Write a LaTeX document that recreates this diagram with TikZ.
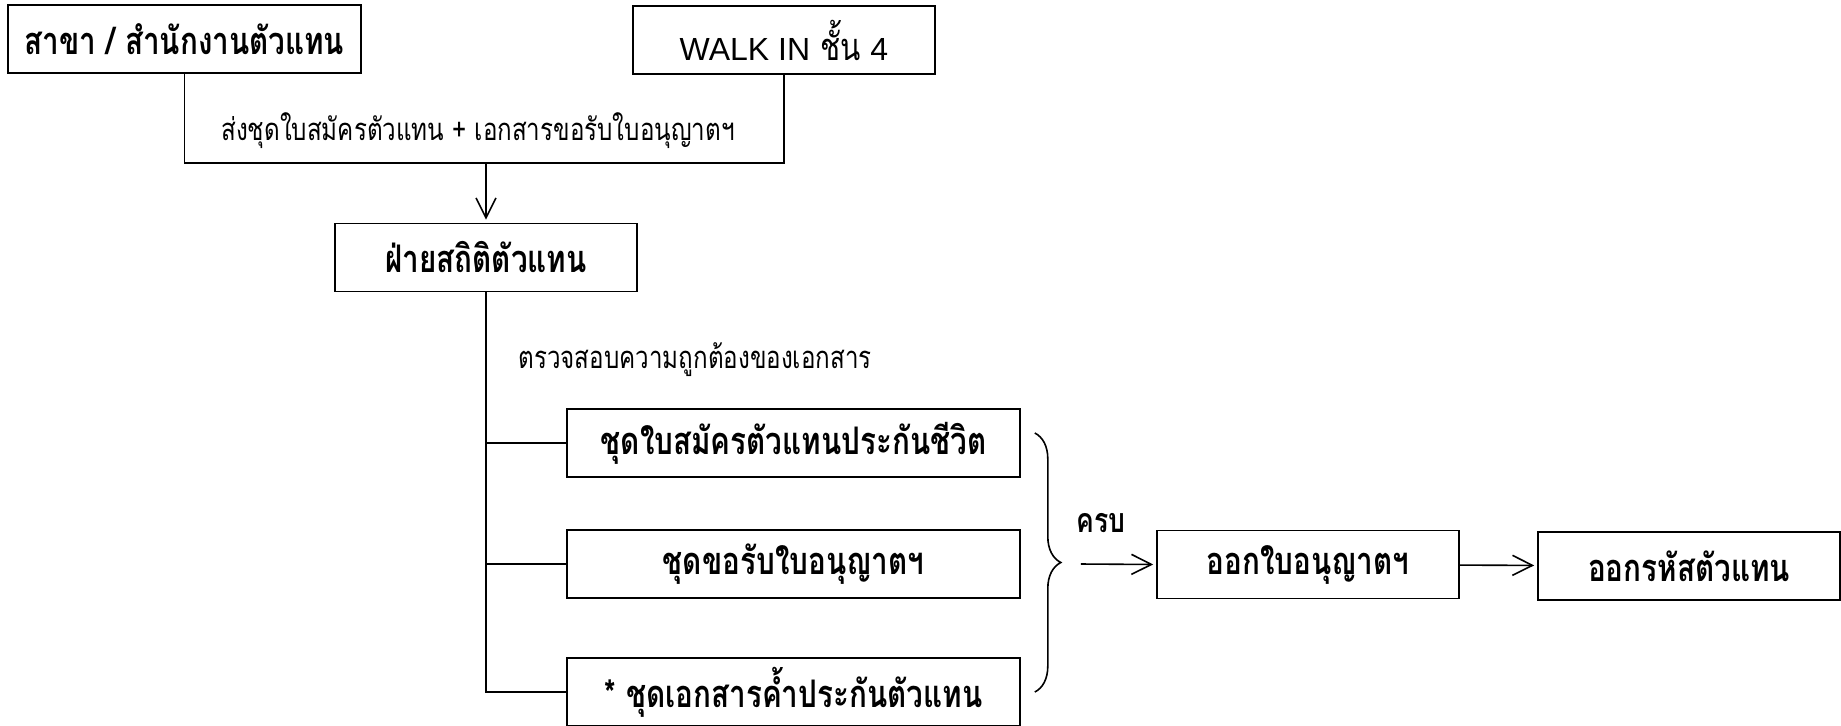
\documentclass[tikz,border=0pt]{standalone}
\usepackage{fontspec}
\setmainfont[Script=Thai, FakeStretch=0.78]{Loma}
\newfontfamily\latinfont{Liberation Sans}
\usetikzlibrary{arrows.meta,decorations.pathreplacing}

\begin{document}
\begin{tikzpicture}[x=0.5pt, y=-0.5pt]

%
% Styles
%
\tikzstyle{box}   = [draw, line width=0.8pt, inner sep=0pt, minimum width=151pt, minimum height=34pt, font=\bfseries\fontsize{19}{22}\selectfont]
\tikzstyle{wide}  = [box, minimum width=226.5pt]
\tikzstyle{plain} = [font=\fontsize{19}{22}\selectfont]
\tikzstyle{note}  = [inner sep=0pt, font=\fontsize{15.5}{18}\selectfont]

\tikzstyle{edge}  = [line width=0.8pt]
\tikzstyle{arrow} = [edge, -{Straight Barb[length=10pt,width=10pt]}, shorten >=1.5pt]
\tikzstyle{brace} = [edge, decorate, decoration={brace, amplitude=13pt}]

\path[use as bounding box, fill=white] (0, 0) rectangle (1841, 725);

\node[box, minimum width=176.5pt] (branch) at ( 184.5,  39)  {สาขา / สำนักงานตัวแทน};
\node[box, plain]                 (walkin) at ( 784,    40)  {{\latinfont\fontsize{16}{19}\selectfont WALK IN} ชั้น {\latinfont\fontsize{16}{19}\selectfont 4}};
\node[note]                       (send)   at ( 478,   131)  {ส่งชุดใบสมัครตัวแทน + เอกสารขอรับใบอนุญาตฯ};
\coordinate                       (join)   at ( 486,   163);
\node[box]                        (stat)   at ( 486,   257.5) {ฝ่ายสถิติตัวแทน};
\node[note, anchor=west]          (check)  at ( 518,   360)  {ตรวจสอบความถูกต้องของเอกสาร};
\node[wide]                       (form)   at ( 793.5, 443)  {ชุดใบสมัครตัวแทนประกันชีวิต};
\node[wide]                       (licreq) at ( 793.5, 564)  {ชุดขอรับใบอนุญาตฯ};
\node[wide]                       (guar)   at ( 793.5, 692)  {* ชุดเอกสารค้ำประกันตัวแทน};
\node[inner sep=0pt, font=\bfseries\fontsize{17}{20}\selectfont]
                                  (done)   at (1101,   523)  {ครบ};
\node[box]                        (issue)  at (1308,   564.5) {ออกใบอนุญาตฯ};
\node[box]                        (code)   at (1689,   566)  {ออกรหัสตัวแทน};

\draw[edge]  (branch.south) |- (join) -| (walkin.south);
\draw[arrow] (join) -- (stat.north);
\draw[edge]  (stat.south) |- (guar.west);
\draw[edge]  (stat.south |- form.west) -- (form.west);
\draw[edge]  (stat.south |- licreq.west) -- (licreq.west);
\draw[brace] ([xshift=7pt,yshift=5pt]form.east) -- ([xshift=7pt]guar.east);
\draw[arrow] ([xshift=30pt]licreq.east) -- (issue.west);
\draw[arrow] (issue) -- (code);

\end{tikzpicture}
\end{document}
